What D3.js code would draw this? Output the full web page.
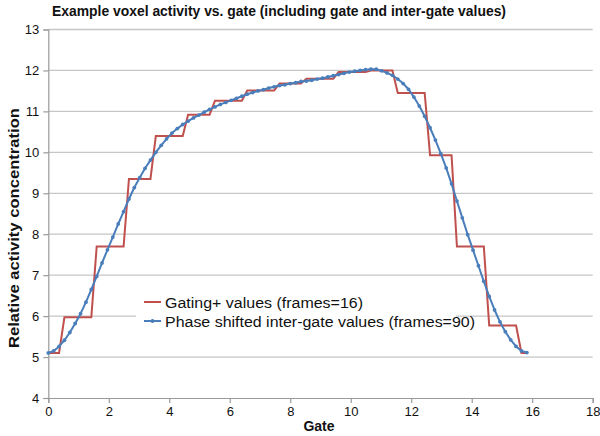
<!DOCTYPE html>
<html><head><meta charset="utf-8">
<script src="https://cdn.jsdelivr.net/npm/d3@7"></script>
<style>
body{margin:0;background:#fff}
svg{display:block}
text{font-family:"Liberation Sans",Arial,Helvetica,sans-serif;fill:#111}
</style>
</head><body>
<svg id="chart" width="600" height="436"></svg>
<script>
// ---- data ----
const chartTitle = "Example voxel activity vs. gate (including gate and inter-gate values)";
const xLabel = "Gate";
const yLabel = "Relative activity concentration";
const seriesNames = ["Gating+ values (frames=16)", "Phase shifted inter-gate values (frames=90)"];
// one value per gate (16 gates)
const gateValues = [5.10, 5.97, 7.70, 9.35, 10.40, 10.92, 11.26, 11.51, 11.68, 11.80, 11.96, 12.00, 11.45, 9.93, 7.70, 5.77];
// inter-gate values, 90 frames spanning the 16 gates
const interGateValues = [
  5.10, 5.15, 5.26, 5.41, 5.60, 5.82, 6.06, 6.34, 6.65, 6.97,
  7.30, 7.62, 7.93, 8.25, 8.55, 8.86, 9.14, 9.38, 9.61, 9.81,
  10.00, 10.17, 10.33, 10.47, 10.58, 10.68, 10.76, 10.84, 10.91, 10.98,
  11.05, 11.11, 11.17, 11.22, 11.27, 11.32, 11.37, 11.42, 11.46, 11.50,
  11.53, 11.57, 11.60, 11.63, 11.65, 11.68, 11.70, 11.73, 11.74, 11.76,
  11.79, 11.81, 11.84, 11.87, 11.90, 11.93, 11.96, 11.98, 12.00, 12.02,
  12.03, 12.03, 11.99, 11.94, 11.88, 11.79, 11.68, 11.54, 11.35, 11.13,
  10.88, 10.60, 10.30, 9.97, 9.62, 9.23, 8.81, 8.40, 7.99, 7.61,
  7.23, 6.85, 6.48, 6.15, 5.86, 5.62, 5.42, 5.26, 5.15, 5.11
];
const xTicks = [0, 2, 4, 6, 8, 10, 12, 14, 16, 18];
const yTicks = [4, 5, 6, 7, 8, 9, 10, 11, 12, 13];

// ---- build frame tables ----
const nGates = gateValues.length;
const nFrames = interGateValues.length;
const frameX = d3.range(nFrames).map(i => i * nGates / nFrames);
const interData = frameX.map((x, i) => ({x, y: interGateValues[i]}));
const gateData = frameX.map(x => ({x, y: gateValues[Math.round(x) % nGates]}));

// ---- layout ----
const svg = d3.select("#chart");
const L = 48.3, R = 592.7, T = 29.5, B = 398;
const x = d3.scaleLinear().domain([0, 18]).range([L, R]);
const y = d3.scaleLinear().domain([4, 13]).range([B, T]);

const red = "#c0504d", blue = "#4a7ebb";

// gridlines
svg.append("g").selectAll("line").data(yTicks.filter(v => v > 4)).join("line")
  .attr("x1", L).attr("x2", R)
  .attr("y1", d => y(d)).attr("y2", d => y(d))
  .attr("stroke", "#c6c6c6").attr("stroke-width", 1.3);

// y axis
const yAxis = svg.append("g").attr("transform", `translate(${L},0)`)
  .call(d3.axisLeft(y).tickValues(yTicks).tickSize(5).tickPadding(4).tickFormat(d3.format("d")));
// x axis
const xAxis = svg.append("g").attr("transform", `translate(0,${B})`)
  .call(d3.axisBottom(x).tickValues(xTicks).tickSize(5).tickPadding(4).tickFormat(d3.format("d")));
[yAxis, xAxis].forEach(g => {
  g.select(".domain").attr("stroke", "#9a9a9a").attr("stroke-width", 1.2);
  g.selectAll(".tick line").attr("stroke", "#9a9a9a").attr("stroke-width", 1.2);
  g.selectAll(".tick text").attr("font-size", 13).attr("fill", "#222")
    .attr("font-family", '"Liberation Sans",Arial,sans-serif');
});

// legend background (drawn before lines so it hides gridline)
svg.append("rect").attr("x", 136).attr("y", 286).attr("width", 320).attr("height", 52).attr("fill", "#fff");

// series lines
const line = d3.line().x(d => x(d.x)).y(d => y(d.y));
svg.append("path").datum(gateData).attr("d", line)
  .attr("fill", "none").attr("stroke", red).attr("stroke-width", 2).attr("stroke-linejoin", "miter");
svg.append("path").datum(interData).attr("d", line)
  .attr("fill", "none").attr("stroke", blue).attr("stroke-width", 2).attr("stroke-linejoin", "round");
svg.append("g").selectAll("circle").data(interData).join("circle")
  .attr("cx", d => x(d.x)).attr("cy", d => y(d.y)).attr("r", 1.9).attr("fill", blue);

// legend
const legY = [302, 321];
const legColors = [red, blue];
seriesNames.forEach((name, i) => {
  svg.append("line").attr("x1", 144).attr("x2", 161).attr("y1", legY[i]).attr("y2", legY[i])
    .attr("stroke", legColors[i]).attr("stroke-width", 2);
  if (i === 1) svg.append("circle").attr("cx", 152.5).attr("cy", legY[i]).attr("r", 1.9).attr("fill", blue);
  svg.append("text").attr("x", 165).attr("y", legY[i] + 5.5)
    .attr("font-size", 15.5).text(name)
    .attr("textLength", i === 0 ? 198 : 310).attr("lengthAdjust", "spacingAndGlyphs");
});

// title & axis labels
svg.append("text").attr("x", 279).attr("y", 16).attr("text-anchor", "middle")
  .attr("font-size", 14.5).attr("font-weight", "bold").text(chartTitle)
  .attr("textLength", 454).attr("lengthAdjust", "spacingAndGlyphs");
svg.append("text").attr("x", 319).attr("y", 431).attr("text-anchor", "middle")
  .attr("font-size", 14).attr("font-weight", "bold").text(xLabel);
svg.append("text").attr("transform", "translate(19,228) rotate(-90)").attr("text-anchor", "middle")
  .attr("font-size", 14).attr("font-weight", "bold").text(yLabel)
  .attr("textLength", 240).attr("lengthAdjust", "spacingAndGlyphs");
</script>
</body></html>
